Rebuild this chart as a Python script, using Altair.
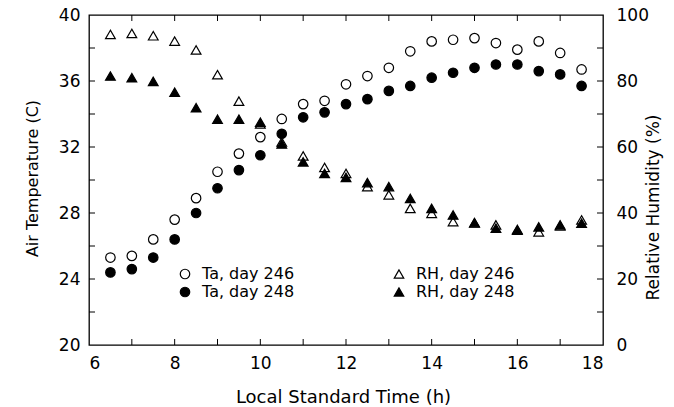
import altair as alt
import pandas as pd

# ---- data ----
hours = [6.5, 7.0, 7.5, 8.0, 8.5, 9.0, 9.5, 10.0, 10.5, 11.0, 11.5, 12.0,
         12.5, 13.0, 13.5, 14.0, 14.5, 15.0, 15.5, 16.0, 16.5, 17.0, 17.5]
ta_day246 = [25.3, 25.4, 26.4, 27.6, 28.9, 30.5, 31.6, 32.6, 33.7, 34.6, 34.8, 35.8,
             36.3, 36.8, 37.8, 38.4, 38.5, 38.6, 38.3, 37.9, 38.4, 37.7, 36.7]
ta_day248 = [24.4, 24.6, 25.3, 26.4, 28.0, 29.5, 30.6, 31.5, 32.8, 33.8, 34.1, 34.6,
             34.9, 35.4, 35.7, 36.2, 36.5, 36.8, 37.0, 37.0, 36.6, 36.4, 35.7]
rh_day246 = [94.1, 94.4, 93.7, 92.1, 89.4, 81.9, 73.9, 67.0, 61.5, 57.3, 53.8, 52.0,
             48.0, 45.5, 41.4, 39.9, 37.4, 37.0, 36.4, 35.0, 34.3, 36.1, 37.9]
rh_day248 = [81.5, 81.0, 79.9, 76.6, 71.9, 68.4, 68.4, 67.5, 60.9, 55.5, 52.0, 50.8,
             49.2, 48.0, 44.4, 41.4, 39.4, 37.1, 35.4, 34.8, 35.8, 36.4, 36.9]

series_order = ["Ta, day 246", "Ta, day 248", "RH, day 246", "RH, day 248"]
series_shapes = ["circle", "circle", "triangle-up", "triangle-up"]
series_fills = ["white", "black", "white", "black"]
series_strokes = ["black", "black", "black", "black"]

x_label_values = [6, 8, 10, 12, 14, 16, 18]
ta_label_values = [20, 24, 28, 32, 36, 40]
rh_label_values = [0, 20, 40, 60, 80, 100]
x_tick_values = [7, 8, 9, 10, 11, 12, 13, 14, 15, 16, 17]
ta_tick_values = [22, 24, 26, 28, 30, 32, 34, 36, 38]
rh_tick_values = [10, 20, 30, 40, 50, 60, 70, 80, 90]

n = len(hours)
ta_df = pd.DataFrame({
    "hour": hours + hours,
    "value": ta_day246 + ta_day248,
    "series": ["Ta, day 246"] * n + ["Ta, day 248"] * n,
})
rh_df = pd.DataFrame({
    "hour": hours + hours,
    "value": rh_day246 + rh_day248,
    "series": ["RH, day 246"] * n + ["RH, day 248"] * n,
})
xt_df = pd.DataFrame({"hour": x_tick_values})
tat_df = pd.DataFrame({"value": ta_tick_values})
rht_df = pd.DataFrame({"value": rh_tick_values})

W, H = 514, 330
TICK = 6
FONT = "DejaVu Sans"

x_enc = alt.X(
    "hour:Q",
    scale=alt.Scale(domain=[6, 18], nice=False, zero=False),
    axis=alt.Axis(values=x_label_values, ticks=False, domain=False, grid=False,
                  labelPadding=10, labelFontSize=17,
                  title="Local Standard Time (h)", titleFontSize=18,
                  titleX=254, titleY=52, titleBaseline="middle", titleAlign="center"),
)
ta_y = alt.Y(
    "value:Q",
    scale=alt.Scale(domain=[20, 40], nice=False, zero=False),
    axis=alt.Axis(values=ta_label_values, orient="left", ticks=False, domain=False,
                  grid=False, labelPadding=9, labelFontSize=17,
                  title="Air Temperature (C)", titleFontSize=16,
                  titleX=-57, titleY=163, titleAngle=270, titleBaseline="middle",
                  titleAlign="center"),
)
rh_y = alt.Y(
    "value:Q",
    scale=alt.Scale(domain=[0, 100], nice=False, zero=False),
    axis=alt.Axis(values=rh_label_values, orient="right", ticks=False, domain=False,
                  grid=False, labelPadding=13, labelFontSize=17,
                  title="Relative Humidity (%)", titleFontSize=17,
                  titleX=50, titleY=192, titleAngle=270, titleBaseline="middle",
                  titleAlign="center"),
)

leg = alt.Legend(title=None, orient="none", legendX=88, legendY=251, columns=2,
                 columnPadding=96, rowPadding=2, labelFontSize=16, labelOffset=9,
                 symbolSize=90, symbolStrokeWidth=1.2,
                 padding=0, labelColor="black")
shape_enc = alt.Shape("series:N", scale=alt.Scale(domain=series_order, range=series_shapes), legend=leg)
fill_enc = alt.Fill("series:N", scale=alt.Scale(domain=series_order, range=series_fills), legend=leg)
stroke_enc = alt.Stroke("series:N", scale=alt.Scale(domain=series_order, range=series_strokes), legend=leg)

ta_points = alt.Chart(ta_df).mark_point(filled=True, strokeWidth=1.2,
                                         size=90, opacity=1).encode(
    x=x_enc, y=ta_y, shape=shape_enc, fill=fill_enc, stroke=stroke_enc)
rh_points = alt.Chart(rh_df).mark_point(filled=True, strokeWidth=1.2,
                                         size=95, opacity=1).encode(
    x=x_enc, y=rh_y, shape=shape_enc, fill=fill_enc, stroke=stroke_enc)

x_ticks_bottom = alt.Chart(xt_df).mark_rule(color="black", strokeWidth=1).encode(
    x=x_enc, y=alt.value(H), y2=alt.value(H - TICK))
x_ticks_top = alt.Chart(xt_df).mark_rule(color="black", strokeWidth=1).encode(
    x=x_enc, y=alt.value(0), y2=alt.value(TICK))
ta_ticks = alt.Chart(tat_df).mark_rule(color="black", strokeWidth=1).encode(
    y=ta_y, x=alt.value(0), x2=alt.value(TICK))
rh_ticks = alt.Chart(rht_df).mark_rule(color="black", strokeWidth=1).encode(
    y=rh_y, x=alt.value(W), x2=alt.value(W - TICK))

ta_group = alt.layer(x_ticks_bottom, x_ticks_top, ta_ticks, ta_points)
rh_group = alt.layer(rh_ticks, rh_points)

chart = alt.layer(ta_group, rh_group).resolve_scale(y="independent").properties(
    width=W, height=H,
    autosize=alt.AutoSizeParams(type="none"),
    padding={"left": 89, "top": 15, "right": 71, "bottom": 62},
    background="white",
).configure_view(
    stroke="black", strokeWidth=1.3
).configure_axis(
    labelFont=FONT, titleFont=FONT, labelColor="black", titleColor="black",
    titleFontWeight="normal",
).configure_legend(
    labelFont=FONT,
)

chart.save("out.html", embed_options={"renderer": "svg", "actions": False})
